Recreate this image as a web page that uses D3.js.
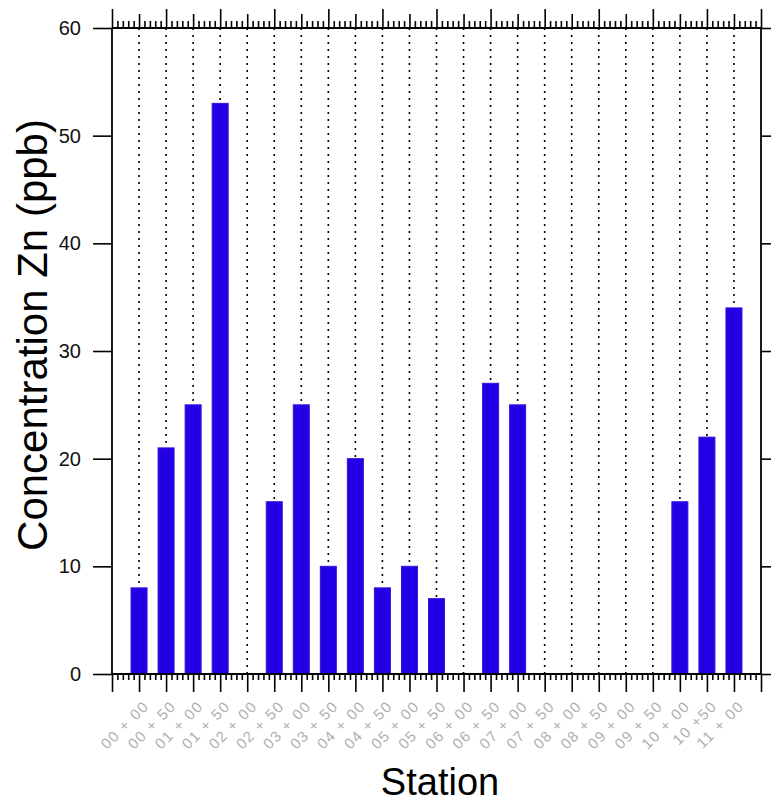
<!DOCTYPE html>
<html>
<head>
<meta charset="utf-8">
<script src="https://cdn.jsdelivr.net/npm/d3@7/dist/d3.min.js"></script>
<style>
  html, body { margin: 0; padding: 0; background: #fff; }
  svg { display: block; font-family: Arial, "Liberation Sans", sans-serif; }
</style>
</head>
<body>
<svg id="chart" width="771" height="805"></svg>
<script>
// Zinc concentration per station
const stations = ["00 + 00", "00 + 50", "01 + 00", "01 + 50", "02 + 00", "02 + 50",
  "03 + 00", "03 + 50", "04 + 00", "04 + 50", "05 + 00", "05 + 50", "06 + 00",
  "06 + 50", "07 + 00", "07 + 50", "08 + 00", "08 + 50", "09 + 00", "09 + 50",
  "10 + 00", "10 +50", "11 + 00"];
const znValues = [8, 21, 25, 53, 0, 16, 25, 10, 20, 8, 10, 7, 0, 27, 25, 0, 0, 0, 0, 0, 16, 22, 34];
const yTicks = [0, 10, 20, 30, 40, 50, 60];

const svg = d3.select("#chart");
const plotLeft = 112, plotRight = 761, plotTop = 28, plotBottom = 674;

// stations sit at integer positions 1..n, with one empty slot on each side
const x = d3.scaleLinear().domain([0, stations.length + 1]).range([plotLeft, plotRight]);
const y = d3.scaleLinear().domain([0, 60]).range([plotBottom, plotTop]);

const majorPos = d3.range(0, stations.length + 2);
const minorPos = d3.range(0, (stations.length + 1) * 5 + 1).map(d => d / 5).filter(d => !Number.isInteger(d));

// dotted guide lines at each station
svg.append("g").selectAll("line").data(stations).join("line")
  .attr("x1", (d, i) => x(i + 1)).attr("x2", (d, i) => x(i + 1))
  .attr("y1", plotTop).attr("y2", plotBottom)
  .attr("stroke", "#000").attr("stroke-width", 1.6)
  .attr("stroke-dasharray", "2,5");

// bars
const barW = 16;
svg.append("g").selectAll("rect").data(znValues).join("rect")
  .attr("x", (d, i) => x(i + 1) - barW / 2)
  .attr("y", d => y(d))
  .attr("width", barW)
  .attr("height", d => y(0) - y(d))
  .attr("fill", "#2200e6")
  .attr("stroke", "#3a10d8").attr("stroke-width", 1);

function styleAxis(g) {
  g.select(".domain").remove();
  g.selectAll(".tick line").attr("stroke", "#000").attr("stroke-width", 1.6);
}

// bottom axis: minor and major ticks
svg.append("g").attr("transform", `translate(0,${plotBottom})`)
  .call(d3.axisBottom(x).tickValues(minorPos).tickSize(6).tickFormat(""))
  .call(styleAxis);
svg.append("g").attr("transform", `translate(0,${plotBottom})`)
  .call(d3.axisBottom(x).tickValues(majorPos).tickSize(18).tickFormat(""))
  .call(styleAxis);

// top axis: minor, odd and even ticks
svg.append("g").attr("transform", `translate(0,${plotTop})`)
  .call(d3.axisTop(x).tickValues(minorPos).tickSize(7).tickFormat(""))
  .call(styleAxis);
svg.append("g").attr("transform", `translate(0,${plotTop})`)
  .call(d3.axisTop(x).tickValues(majorPos.filter(d => d % 2 === 1)).tickSize(14).tickFormat(""))
  .call(styleAxis);
svg.append("g").attr("transform", `translate(0,${plotTop})`)
  .call(d3.axisTop(x).tickValues(majorPos.filter(d => d % 2 === 0)).tickSize(19).tickFormat(""))
  .call(styleAxis);

// left axis with labels
const leftAxis = svg.append("g").attr("transform", `translate(${plotLeft},0)`)
  .call(d3.axisLeft(y).tickValues(yTicks).tickSize(19).tickPadding(12))
  .call(styleAxis);
leftAxis.selectAll(".tick text")
  .attr("font-size", 20).attr("fill", "#111")
  .attr("font-family", "Arial, 'Liberation Sans', sans-serif");

// right axis
svg.append("g").attr("transform", `translate(${plotRight},0)`)
  .call(d3.axisRight(y).tickValues(yTicks).tickSize(12).tickFormat(""))
  .call(styleAxis);

// frame
const frame = svg.append("g").attr("stroke", "#000").attr("stroke-width", 1.8);
frame.append("line").attr("x1", plotLeft).attr("x2", plotRight).attr("y1", plotTop).attr("y2", plotTop);
frame.append("line").attr("x1", plotLeft).attr("x2", plotRight).attr("y1", plotBottom).attr("y2", plotBottom);
frame.append("line").attr("x1", plotLeft).attr("x2", plotLeft).attr("y1", plotTop).attr("y2", plotBottom);
frame.append("line").attr("x1", plotRight).attr("x2", plotRight).attr("y1", plotTop).attr("y2", plotBottom);

// station labels, rotated
svg.append("g").selectAll("text").data(stations).join("text")
  .attr("transform", (d, i) => `translate(${x(i + 1) + 11},${707}) rotate(-45)`)
  .attr("text-anchor", "end")
  .attr("font-size", 15)
  .attr("letter-spacing", 1.5)
  .attr("fill", "#b0b0b0")
  .text(d => d);

// axis titles
svg.append("text")
  .attr("x", 440).attr("y", 795)
  .attr("text-anchor", "middle")
  .attr("font-size", 38)
  .attr("fill", "#000")
  .text("Station");

svg.append("text")
  .attr("transform", "translate(47,335) rotate(-90)")
  .attr("text-anchor", "middle")
  .attr("font-size", 42)
  .attr("fill", "#000")
  .text("Concentration Zn (ppb)");
</script>
</body>
</html>
